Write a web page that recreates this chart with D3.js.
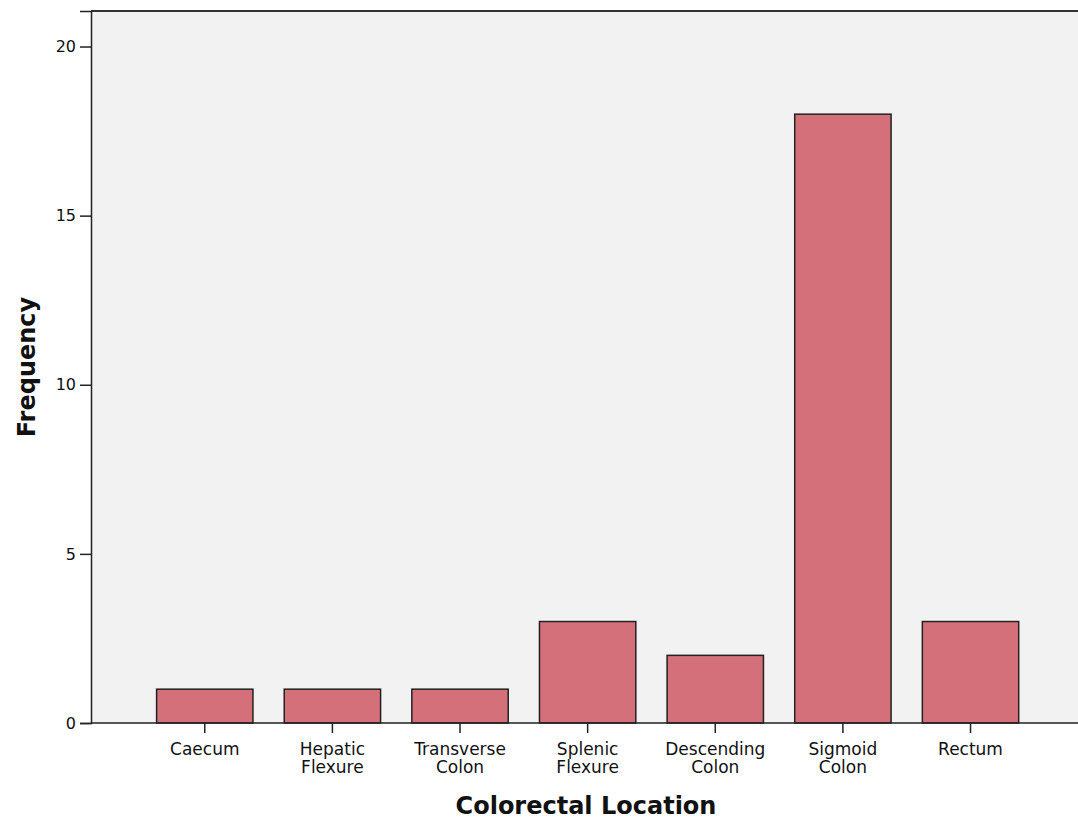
<!DOCTYPE html>
<html><head><meta charset="utf-8">
<script src="https://cdn.jsdelivr.net/npm/d3@7"></script>
<style>body{margin:0;background:#fff}svg{display:block}</style>
</head><body>
<svg id="chart" width="1078" height="825"></svg>
<script>
const categories = [["Caecum"],["Hepatic","Flexure"],["Transverse","Colon"],["Splenic","Flexure"],["Descending","Colon"],["Sigmoid","Colon"],["Rectum"]];
const frequencies = [1, 1, 1, 3, 2, 18, 3];
const yTicks = [0, 5, 10, 15, 20];

(function(){
const svg = d3.select("#chart");
const pl = 91, pt = 11, pb = 723, pr = 1084.3;
const font = "'DejaVu Sans', Verdana, sans-serif";
const keys = categories.map(c => c.join(" "));

const x = d3.scaleBand().domain(keys).range([pl, pr]).paddingInner(0.245).paddingOuter(0.514);
const y = d3.scaleLinear().domain([0, 21.05]).range([pb, pt]);

svg.append("rect").attr("x", pl).attr("y", pt).attr("width", 1100 - pl).attr("height", pb - pt).attr("fill", "#f2f2f2");

svg.selectAll("rect.bar").data(frequencies).join("rect").attr("class","bar")
  .attr("x", (d,i) => x(keys[i])).attr("width", x.bandwidth())
  .attr("y", d => y(d)).attr("height", d => y(0) - y(d))
  .attr("fill", "#d4707a").attr("stroke", "#222").attr("stroke-width", 1.5);

svg.append("line").attr("x1", pl).attr("x2", 1100).attr("y1", pt).attr("y2", pt).attr("stroke", "#333").attr("stroke-width", 2);

const yAxis = svg.append("g").attr("transform", `translate(${pl},0)`)
  .call(d3.axisLeft(y).tickValues(yTicks).tickSize(11).tickPadding(4).tickFormat(d3.format("d")));
yAxis.select(".domain").attr("stroke", "#222").attr("stroke-width", 1.5);
yAxis.selectAll(".tick line").attr("stroke", "#222").attr("stroke-width", 1.5);
yAxis.selectAll("text").attr("font-family", font).attr("font-size", 16).attr("fill", "#111");

const xAxis = svg.append("g").attr("transform", `translate(0,${pb})`)
  .call(d3.axisBottom(x).tickSize(10).tickSizeOuter(0).tickFormat(""));
xAxis.select(".domain").attr("d", `M${pl},0H1100`).attr("stroke", "#222").attr("stroke-width", 1.5);
xAxis.selectAll(".tick line").attr("stroke", "#222").attr("stroke-width", 1.5);

const lbl = svg.append("g");
categories.forEach((lines, i) => {
  const cx = x(keys[i]) + x.bandwidth()/2;
  lines.forEach((s, j) => lbl.append("text").attr("x", cx).attr("y", 755 + j * 18)
    .attr("text-anchor", "middle").attr("font-family", font).attr("font-size", 17).attr("fill", "#111").text(s));
});

svg.append("text").attr("x", 586).attr("y", 814).attr("text-anchor", "middle")
  .attr("font-family", font).attr("font-weight", "bold").attr("font-size", 24).attr("fill", "#111")
  .text("Colorectal Location");

svg.append("text").attr("transform", "translate(35,367) rotate(-90)").attr("text-anchor", "middle")
  .attr("font-family", font).attr("font-weight", "bold").attr("font-size", 24).attr("fill", "#111")
  .text("Frequency");
})();
</script>
</body></html>
